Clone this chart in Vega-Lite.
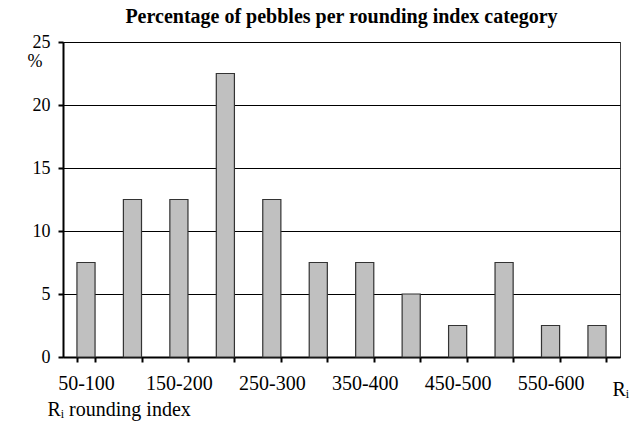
{
  "$schema": "https://vega.github.io/schema/vega-lite/v6.json",
  "width": 557,
  "height": 315,
  "autosize": "none",
  "padding": {"left": 63, "top": 42, "right": 12, "bottom": 68},
  "background": "white",
  "config": {
    "font": "Liberation Serif",
    "axis": {"labelFont": "Liberation Serif", "titleFont": "Liberation Serif"},
    "title": {"font": "Liberation Serif"},
    "view": {"stroke": "#444", "strokeWidth": 1}
  },
  "title": {
    "text": "Percentage of pebbles per rounding index category",
    "font": "Liberation Serif",
    "fontSize": 20,
    "fontWeight": "bold",
    "color": "black",
    "anchor": "middle",
    "offset": 6
  },
  "data": {
    "values": [
      {"category": "50-100", "pct": 7.5},
      {"category": "100-150", "pct": 12.5},
      {"category": "150-200", "pct": 12.5},
      {"category": "200-250", "pct": 22.5},
      {"category": "250-300", "pct": 12.5},
      {"category": "300-350", "pct": 7.5},
      {"category": "350-400", "pct": 7.5},
      {"category": "400-450", "pct": 5},
      {"category": "450-500", "pct": 2.5},
      {"category": "500-550", "pct": 7.5},
      {"category": "550-600", "pct": 2.5},
      {"category": "600-650", "pct": 2.5}
    ]
  },
  "encoding": {
    "x": {
      "field": "category",
      "type": "nominal",
      "sort": null,
      "scale": {"paddingInner": 0.61, "paddingOuter": 0.3},
      "axis": {
        "orient": "bottom",
        "tickBand": "extent",
        "labelAngle": 0,
        "labelExpr": "indexof(['50-100','150-200','250-300','350-400','450-500','550-600'], datum.value) >= 0 ? datum.value : ''",
        "labelFont": "Liberation Serif",
        "labelFontSize": 20,
        "labelColor": "black",
        "labelPadding": 11,
        "labelOverlap": false,
        "domainColor": "black",
        "domainWidth": 2,
        "tickColor": "black",
        "tickWidth": 2,
        "tickSize": 5,
        "grid": false,
        "title": "Rᵢ",
        "titleFont": "Liberation Serif",
        "titleFontSize": 20,
        "titleFontWeight": "normal",
        "titleColor": "black",
        "titleAlign": "left",
        "titleBaseline": "alphabetic",
        "titleX": 549,
        "titleY": 38
      }
    }
  },
  "layer": [
    {
      "mark": {"type": "bar", "fill": "#c0c0c0", "stroke": "#333", "strokeWidth": 1.2},
      "encoding": {
        "y": {
          "field": "pct",
          "type": "quantitative",
          "scale": {"domain": [0, 25]},
          "axis": {
            "orient": "left",
            "values": [0, 5, 10, 15, 20, 25],
            "labelFont": "Liberation Serif",
            "labelFontSize": 18,
            "labelColor": "black",
            "labelPadding": 8,
            "domainColor": "black",
            "domainWidth": 2,
            "tickColor": "black",
            "tickWidth": 2,
            "tickSize": 5,
            "grid": true,
            "gridColor": "black",
            "gridWidth": 1,
            "gridOpacity": 1,
            "title": "%",
            "titleFont": "Liberation Serif",
            "titleFontSize": 18,
            "titleFontWeight": "normal",
            "titleColor": "black",
            "titleAngle": 0,
            "titleAlign": "left",
            "titleBaseline": "middle",
            "titleX": -36,
            "titleY": 19
          }
        }
      }
    },
    {
      "mark": {"type": "bar", "opacity": 0},
      "encoding": {
        "y": {
          "field": "pct",
          "type": "quantitative",
          "scale": {"domain": [0, 25]},
          "axis": {
            "orient": "right",
            "domain": false,
            "ticks": false,
            "labels": false,
            "grid": false,
            "title": "Rᵢ rounding index",
            "titleFont": "Liberation Serif",
            "titleFontSize": 20,
            "titleFontWeight": "normal",
            "titleColor": "black",
            "titleAngle": 0,
            "titleAlign": "left",
            "titleBaseline": "alphabetic",
            "titleX": -573,
            "titleY": 373
          }
        }
      }
    }
  ],
  "resolve": {"axis": {"y": "independent"}}
}
